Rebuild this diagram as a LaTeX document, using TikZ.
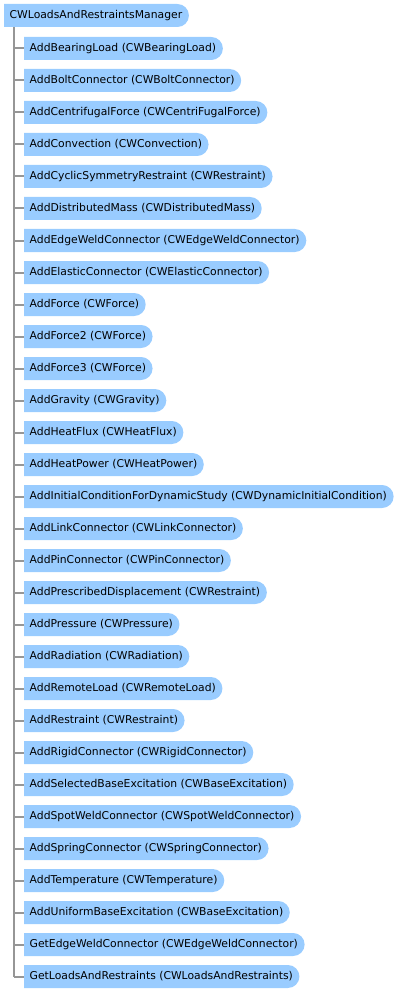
\documentclass[tikz,border=0pt]{standalone}
\usepackage{fontspec}
\setmainfont{DejaVu Sans}
\usetikzlibrary{shapes.misc,positioning}
\definecolor{nodeblue}{RGB}{153,204,255}
\definecolor{treegray}{RGB}{150,150,150}

\begin{document}
\begin{tikzpicture}[x=1pt, y=-1pt,
  member/.style={rounded rectangle, rounded rectangle west arc=none, fill=nodeblue,
    minimum height=23pt, inner xsep=5.5pt, inner ysep=0pt, anchor=west,
    font=\fontsize{10.8}{13}\selectfont},
  tree/.style={treegray, line width=2pt}]
\useasboundingbox (0,0) rectangle (400,992);

% Root
\node[member] (root) at (4,15.5) {CWLoadsAndRestraintsManager};
\coordinate (trunk) at (14,27);

% Members
\node[member] (n1)  at (24,48.5)  {AddBearingLoad (CWBearingLoad)};
\node[member] (n2)  at (24,80.5)  {AddBoltConnector (CWBoltConnector)};
\node[member] (n3)  at (24,112.5) {AddCentrifugalForce (CWCentriFugalForce)};
\node[member] (n4)  at (24,144.5) {AddConvection (CWConvection)};
\node[member] (n5)  at (24,176.5) {AddCyclicSymmetryRestraint (CWRestraint)};
\node[member] (n6)  at (24,208.5) {AddDistributedMass (CWDistributedMass)};
\node[member] (n7)  at (24,240.5) {AddEdgeWeldConnector (CWEdgeWeldConnector)};
\node[member] (n8)  at (24,272.5) {AddElasticConnector (CWElasticConnector)};
\node[member] (n9)  at (24,304.5) {AddForce (CWForce)};
\node[member] (n10) at (24,336.5) {AddForce2 (CWForce)};
\node[member] (n11) at (24,368.5) {AddForce3 (CWForce)};
\node[member] (n12) at (24,400.5) {AddGravity (CWGravity)};
\node[member] (n13) at (24,432.5) {AddHeatFlux (CWHeatFlux)};
\node[member] (n14) at (24,464.5) {AddHeatPower (CWHeatPower)};
\node[member] (n15) at (24,496.5) {AddInitialConditionForDynamicStudy (CWDynamicInitialCondition)};
\node[member] (n16) at (24,528.5) {AddLinkConnector (CWLinkConnector)};
\node[member] (n17) at (24,560.5) {AddPinConnector (CWPinConnector)};
\node[member] (n18) at (24,592.5) {AddPrescribedDisplacement (CWRestraint)};
\node[member] (n19) at (24,624.5) {AddPressure (CWPressure)};
\node[member] (n20) at (24,656.5) {AddRadiation (CWRadiation)};
\node[member] (n21) at (24,688.5) {AddRemoteLoad (CWRemoteLoad)};
\node[member] (n22) at (24,720.5) {AddRestraint (CWRestraint)};
\node[member] (n23) at (24,752.5) {AddRigidConnector (CWRigidConnector)};
\node[member] (n24) at (24,784.5) {AddSelectedBaseExcitation (CWBaseExcitation)};
\node[member] (n25) at (24,816.5) {AddSpotWeldConnector (CWSpotWeldConnector)};
\node[member] (n26) at (24,848.5) {AddSpringConnector (CWSpringConnector)};
\node[member] (n27) at (24,880.5) {AddTemperature (CWTemperature)};
\node[member] (n28) at (24,912.5) {AddUniformBaseExcitation (CWBaseExcitation)};
\node[member] (n29) at (24,944.5) {GetEdgeWeldConnector (CWEdgeWeldConnector)};
\node[member] (n30) at (24,976.5) {GetLoadsAndRestraints (CWLoadsAndRestraints)};

% Tree lines
\draw[tree] (trunk) -- (trunk |- n30.west);
\foreach \i in {1,...,30}
  \draw[tree] (trunk |- n\i.west) -- (n\i.west);

\end{tikzpicture}
\end{document}
